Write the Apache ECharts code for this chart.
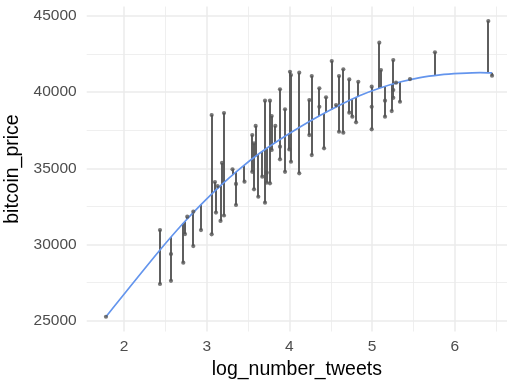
<!DOCTYPE html>
<html>
<head>
<meta charset="utf-8">
<script src="https://cdn.jsdelivr.net/npm/echarts@6/dist/echarts.min.js"></script>
<style>html,body{margin:0;padding:0;background:#fff;}#c{width:507px;height:387px;}</style>
</head>
<body>
<div id="c"></div>
<script>
// ---- data ----
const xVals = [1.782, 2.435, 2.435, 2.568, 2.568, 2.717, 2.738, 2.765, 2.838, 2.838, 2.931, 3.060, 3.060, 3.100, 3.131, 3.112, 3.167, 3.185, 3.209, 3.209, 3.312, 3.354, 3.354, 3.457, 3.551, 3.551, 3.572, 3.572, 3.592, 3.624, 3.672, 3.705, 3.705, 3.726, 3.726, 3.765, 3.765, 3.786, 3.786, 3.830, 3.886, 3.886, 3.886, 3.947, 3.947, 3.999, 4.007, 4.019, 4.019, 4.119, 4.119, 4.241, 4.241, 4.270, 4.270, 4.362, 4.362, 4.419, 4.443, 4.512, 4.564, 4.600, 4.600, 4.652, 4.652, 4.724, 4.724, 4.761, 4.806, 4.833, 4.995, 4.995, 4.995, 5.087, 5.107, 5.156, 5.156, 5.237, 5.256, 5.256, 5.256, 5.289, 5.337, 5.458, 5.760, 6.405, 6.450];
const priceVals = [25250, 30940, 27400, 29370, 27610, 28800, 30680, 31820, 32150, 29890, 30940, 38500, 30660, 34100, 33830, 32090, 31540, 35350, 38630, 31900, 34930, 33970, 32590, 34120, 37180, 34770, 36640, 33620, 37780, 33130, 34450, 39440, 32740, 34710, 34050, 39440, 34010, 38430, 36200, 37780, 40190, 35590, 36420, 38870, 34770, 36240, 41340, 41120, 35430, 41280, 34670, 39480, 37180, 41060, 35870, 40250, 39040, 36310, 39660, 42040, 39150, 41060, 37400, 41500, 37340, 40840, 38650, 38390, 38020, 40680, 40360, 39040, 37560, 43250, 41450, 39440, 38390, 38760, 42110, 40140, 39630, 40620, 39370, 40860, 42620, 44670, 41080];
const fittedVals = [25250, 29630, 29630, 30465, 30465, 31391, 31509, 31670, 32087, 32087, 32619, 33302, 33302, 33512, 33677, 33577, 33860, 33949, 34064, 34064, 34553, 34753, 34753, 35213, 35609, 35609, 35696, 35696, 35785, 35916, 36103, 36225, 36225, 36297, 36297, 36445, 36445, 36520, 36520, 36678, 36888, 36888, 36888, 37092, 37092, 37269, 37299, 37341, 37341, 37683, 37683, 38060, 38060, 38149, 38149, 38438, 38438, 38602, 38671, 38865, 39016, 39121, 39121, 39259, 39259, 39466, 39466, 39535, 39653, 39726, 40067, 40067, 40067, 40254, 40290, 40369, 40369, 40500, 40533, 40533, 40533, 40586, 40665, 40813, 41092, 41289, 41269];
const smoothX = [1.782, 2.435, 2.713, 2.919, 3.161, 3.403, 3.644, 3.886, 4.128, 4.370, 4.612, 4.854, 5.096, 5.337, 5.579, 5.821, 6.063, 6.305, 6.450];
const smoothY = [25250, 29630, 31371, 32553, 33834, 34983, 36001, 36888, 37709, 38464, 39154, 39778, 40271, 40665, 40960, 41138, 41236, 41289, 41269];
const xTicks = [2, 3, 4, 5, 6];
const xMinorTicks = [2.5, 3.5, 4.5, 5.5, 6.5];
const yTicks = [25000, 30000, 35000, 40000, 45000];
const yMinorTicks = [27500, 32500, 37500, 42500];

const GRID = '#EBEBEB';
const gridLines = [];
xMinorTicks.forEach(v => gridLines.push({xAxis: v, lineStyle: {color: GRID, width: 0.8, type: 'solid'}}));
yMinorTicks.forEach(v => gridLines.push({yAxis: v, lineStyle: {color: GRID, width: 0.8, type: 'solid'}}));
xTicks.forEach(v => gridLines.push({xAxis: v, lineStyle: {color: GRID, width: 1.5, type: 'solid'}}));
yTicks.forEach(v => gridLines.push({yAxis: v, lineStyle: {color: GRID, width: 1.5, type: 'solid'}}));

const FONT = 'Liberation Sans, Arial, sans-serif';
const chart = echarts.init(document.getElementById('c'), null, {renderer: 'canvas'});
chart.setOption({
  animation: false,
  backgroundColor: '#fff',
  textStyle: {fontFamily: FONT},
  grid: {left: 86.7, right: 0, top: 6.6, bottom: 55.5, containLabel: false, outerBoundsMode: 'none'},
  xAxis: {
    type: 'value', min: 1.549, max: 6.631,
    name: 'log_number_tweets', nameLocation: 'middle', nameGap: 28,
    nameTextStyle: {color: '#000', fontSize: 19.5, fontFamily: FONT},
    axisLine: {show: false}, axisTick: {show: false, customValues: xTicks},
    splitLine: {show: false}, minorSplitLine: {show: false},
    axisLabel: {customValues: xTicks, color: '#4D4D4D', fontSize: 15.5, margin: 7,
      fontFamily: FONT, formatter: v => String(v)}
  },
  yAxis: {
    type: 'value', min: 24280, max: 45620,
    name: 'bitcoin_price', nameLocation: 'middle', nameGap: 61,
    nameTextStyle: {color: '#000', fontSize: 19.5, fontFamily: FONT},
    axisLine: {show: false}, axisTick: {show: false, customValues: yTicks},
    splitLine: {show: false}, minorSplitLine: {show: false},
    axisLabel: {customValues: yTicks, color: '#4D4D4D', fontSize: 15.5, margin: 10,
      fontFamily: FONT, formatter: v => String(v)}
  },
  series: [
    {
      type: 'line', data: [], z: 0, silent: true,
      markLine: {z: 0, silent: true, symbol: ['none', 'none'], label: {show: false}, animation: false,
        emphasis: {disabled: true}, data: gridLines}
    },
    {
      type: 'custom', z: 10, silent: true,
      data: xVals.map((x, i) => [x, fittedVals[i], priceVals[i]]),
      renderItem: function (params, api) {
        const a = api.coord([api.value(0), api.value(1)]);
        const b = api.coord([api.value(0), api.value(2)]);
        const px = Math.round(a[0]);
        return {type: 'line', shape: {x1: px, y1: a[1], x2: px, y2: b[1]},
          style: {stroke: '#5E5E5E', lineWidth: 2}};
      }
    },
    {
      type: 'line', z: 11, silent: true, symbol: 'none', smooth: 0.3,
      data: smoothX.map((x, i) => [x, smoothY[i]]),
      lineStyle: {color: '#6495ED', width: 1.7}
    },
    {
      type: 'scatter', z: 12, silent: true, symbol: 'circle', symbolSize: 4.2,
      data: xVals.map((x, i) => [x, priceVals[i]]),
      itemStyle: {color: '#555555'}
    }
  ]
});
</script>
</body>
</html>
